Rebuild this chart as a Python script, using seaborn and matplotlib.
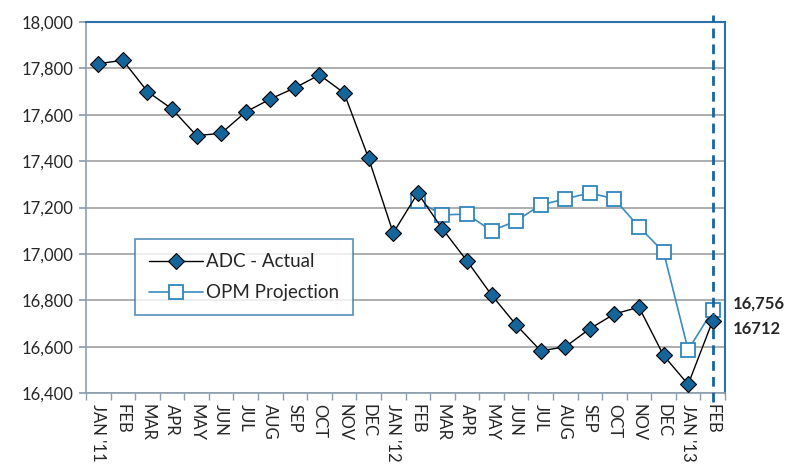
import matplotlib
matplotlib.use("Agg")
import matplotlib.pyplot as plt
import seaborn as sns
import numpy as np
import pandas as pd

months = ["JAN '11", "FEB", "MAR", "APR", "MAY", "JUN", "JUL", "AUG", "SEP", "OCT", "NOV", "DEC",
          "JAN '12", "FEB", "MAR", "APR", "MAY", "JUN", "JUL", "AUG", "SEP", "OCT", "NOV", "DEC",
          "JAN '13", "FEB"]
adc_actual = [17820, 17835, 17700, 17625, 17510, 17520, 17612, 17668, 17716, 17772, 17694, 17412,
              17090, 17262, 17108, 16970, 16823, 16694, 16582, 16599, 16677, 16741, 16770, 16562,
              16437, 16712]
opm_projection = [np.nan] * 13 + [17228, 17168, 17172, 17099, 17142, 17211, 17237, 17263, 17237,
                                  17116, 17009, 16586, 16756]
yticks = [16400, 16600, 16800, 17000, 17200, 17400, 17600, 17800, 18000]

sns.set_theme(style="white")
plt.rcParams['font.family'] = ['Lato', 'DejaVu Sans']

df = pd.DataFrame({"x": np.arange(len(months)), "adc": adc_actual, "opm": opm_projection})

fig = plt.figure(figsize=(7.85, 4.67), dpi=100)
ax = fig.add_axes([86/785, 1-393/467, (725-86)/785, (393-22)/467])

sns.lineplot(data=df, x="x", y="opm", ax=ax, color="#3a8cc0", lw=1.2,
             marker="s", markersize=10, markerfacecolor="white", markeredgecolor="#2f86bd",
             markeredgewidth=1.3, label="OPM Projection", zorder=3)
sns.lineplot(data=df, x="x", y="adc", ax=ax, color="black", lw=1.0,
             marker="D", markersize=8.5, markerfacecolor="#14659a", markeredgecolor="black",
             markeredgewidth=0.8, label="ADC - Actual", zorder=4)

ax.set_xlim(-0.5, len(months) - 0.5)
ax.set_ylim(16400, 18000)
ax.set_yticks(yticks)
ax.set_yticklabels([f"{v:,}" for v in yticks], fontsize=12)
ax.set_xticks(np.arange(len(months)))
ax.set_xticklabels(months, rotation=270, fontsize=12, va="top", ha="center")
ax.set_xlabel("")
ax.set_ylabel("")
ax.yaxis.grid(True, color="#a0a0a0", lw=1.2)
ax.xaxis.grid(False)

# boundary ticks on x axis
ax.set_xticks(np.arange(len(months) + 1) - 0.5, minor=True)
ax.tick_params(axis="x", which="major", length=0, pad=8)
ax.tick_params(axis="x", which="minor", length=5, color="#8c9db0", bottom=True)
ax.tick_params(axis="y", which="major", length=5, color="#8c9db0", left=True, pad=4)

for s in ["top", "right"]:
    ax.spines[s].set_color("#2a72a8")
    ax.spines[s].set_linewidth(1.5)
for s in ["left", "bottom"]:
    ax.spines[s].set_color("#8c9db0")
    ax.spines[s].set_linewidth(1.2)

# dashed vertical line at latest month
ax.plot([len(months) - 1, len(months) - 1], [-0.025, 1.02], transform=ax.get_xaxis_transform(),
        color="#1565a0", lw=2.0, ls=(0, (3.5, 2.2)), clip_on=False, zorder=5)

# annotations
ax.annotate(f"{opm_projection[-1]:,}", xy=(1.0, opm_projection[-1]), xycoords=("axes fraction", "data"),
            xytext=(6, 5), textcoords="offset points", fontsize=12, fontweight="bold", va="center")
ax.annotate(f"{adc_actual[-1]}", xy=(1.0, adc_actual[-1]), xycoords=("axes fraction", "data"),
            xytext=(6, -6), textcoords="offset points", fontsize=12, fontweight="bold", va="center")

# legend
handles, labels = ax.get_legend_handles_labels()
order = [labels.index("ADC - Actual"), labels.index("OPM Projection")]
leg = ax.legend([handles[i] for i in order], [labels[i] for i in order],
                loc="upper left", bbox_to_anchor=((135-86)/639, 1-(239-22)/371),
                fontsize=13.5, frameon=True, fancybox=False, borderpad=0.75,
                handlelength=2.9, labelspacing=0.75, handletextpad=0.15, borderaxespad=0)
leg.get_frame().set_edgecolor("#2a72a8")
leg.get_frame().set_linewidth(1.2)

fig.savefig("out.png", dpi=100)
